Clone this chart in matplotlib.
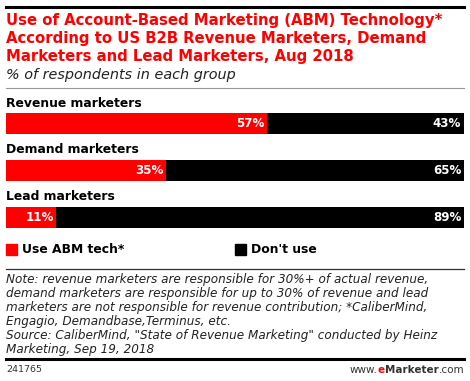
import matplotlib
matplotlib.use("Agg")
import matplotlib.pyplot as plt
from matplotlib.patches import Rectangle

groups = ["Revenue marketers", "Demand marketers", "Lead marketers"]
use_abm = [57, 35, 11]
dont_use = [43, 65, 89]
legend_labels = ["Use ABM tech*", "Don't use"]

RED = "#ff0000"
BLACK = "#000000"
W, H = 470, 381

fig = plt.figure(figsize=(W / 100, H / 100), dpi=100)
plt.rcParams['font.family'] = ['DejaVu Sans']

def fx(px):
    return px / W

def fy(py):
    return 1 - py / H

def hline(y, lw, color, x0=6, x1=464):
    fig.add_artist(plt.Line2D([fx(x0), fx(x1)], [fy(y), fy(y)], color=color, lw=lw,
                              transform=fig.transFigure))

# header
hline(6.5, 2.2, "#000000")
title = ["Use of Account-Based Marketing (ABM) Technology*",
         "According to US B2B Revenue Marketers, Demand",
         "Marketers and Lead Marketers, Aug 2018"]
for i, t in enumerate(title):
    fig.text(fx(6), fy(20 + i * 18), t, color=RED, fontsize=10.75, fontweight="bold",
             va="center", ha="left")
fig.text(fx(6), fy(75), "% of respondents in each group", fontsize=10.4, style="italic",
         va="center", ha="left", color="#222222")
hline(88, 0.8, "#999999")

# bars
top, bottom = 113, 228
ax = fig.add_axes([fx(6), fy(bottom), fx(464) - fx(6), (bottom - top) / H])
n = len(groups)
bh = 0.45
ypos = list(range(n))
ax.barh(ypos, use_abm, height=bh, color=RED, edgecolor="none")
ax.barh(ypos, dont_use, left=use_abm, height=bh, color=BLACK, edgecolor="none")
ax.set_xlim(0, 100)
ax.set_ylim(n - 1 + bh / 2, -bh / 2)
ax.axis("off")
for i, g in enumerate(groups):
    ax.annotate(g, (0, i - bh / 2), xytext=(0, 2.5), textcoords="offset points",
                fontsize=8.9, fontweight="bold", va="bottom", ha="left", annotation_clip=False)
    ax.annotate(f"{use_abm[i]}%", (use_abm[i], i), xytext=(-2, 0), textcoords="offset points",
                color="white", fontsize=8.6, fontweight="bold", va="center", ha="right")
    ax.annotate(f"{dont_use[i]}%", (100, i), xytext=(-2, 0), textcoords="offset points",
                color="white", fontsize=8.6, fontweight="bold", va="center", ha="right")

# legend
for (x0, col, lab) in [(6, RED, legend_labels[0]), (235, BLACK, legend_labels[1])]:
    fig.add_artist(Rectangle((fx(x0), fy(255)), fx(11), 11 / H, color=col,
                             transform=fig.transFigure))
    fig.text(fx(x0 + 16), fy(249.5), lab, fontsize=8.9, fontweight="bold", va="center", ha="left")

hline(269, 0.9, "#333333")
notes = ["Note: revenue marketers are responsible for 30%+ of actual revenue,",
         "demand marketers are responsible for up to 30% of revenue and lead",
         "marketers are not responsible for revenue contribution; *CaliberMind,",
         "Engagio, Demandbase,Terminus, etc.",
         "Source: CaliberMind, \"State of Revenue Marketing\" conducted by Heinz",
         "Marketing, Sep 19, 2018"]
for i, t in enumerate(notes):
    fig.text(fx(6), fy(279 + i * 14), t, fontsize=8.65, style="italic", va="center",
             ha="left", color="#222222")
hline(359, 2.2, "#000000")
fig.text(fx(6), fy(370), "241765", fontsize=6.8, va="center", ha="left", color="#333333")
fig.text(fx(464), fy(370), "www.", fontsize=7.5, va="center", ha="right", color="#333333")

# footer brand text built left to right from the right edge
t3 = fig.text(fx(464), fy(370), ".com", fontsize=7.5, va="center", ha="right", color="#333333")
fig.canvas.draw()
r = fig.canvas.get_renderer()
bb = t3.get_window_extent(r)
t2 = fig.text(bb.x0 / W, fy(370), "Marketer", fontsize=7.5, fontweight="bold", va="center",
              ha="right", color="#333333")
bb = t2.get_window_extent(r)
t1 = fig.text(bb.x0 / W, fy(370), "e", fontsize=7.5, fontweight="bold", va="center",
              ha="right", color=RED)
bb = t1.get_window_extent(r)
fig.texts[-4].set_x(bb.x0 / W)

fig.savefig("out.png", dpi=100)
